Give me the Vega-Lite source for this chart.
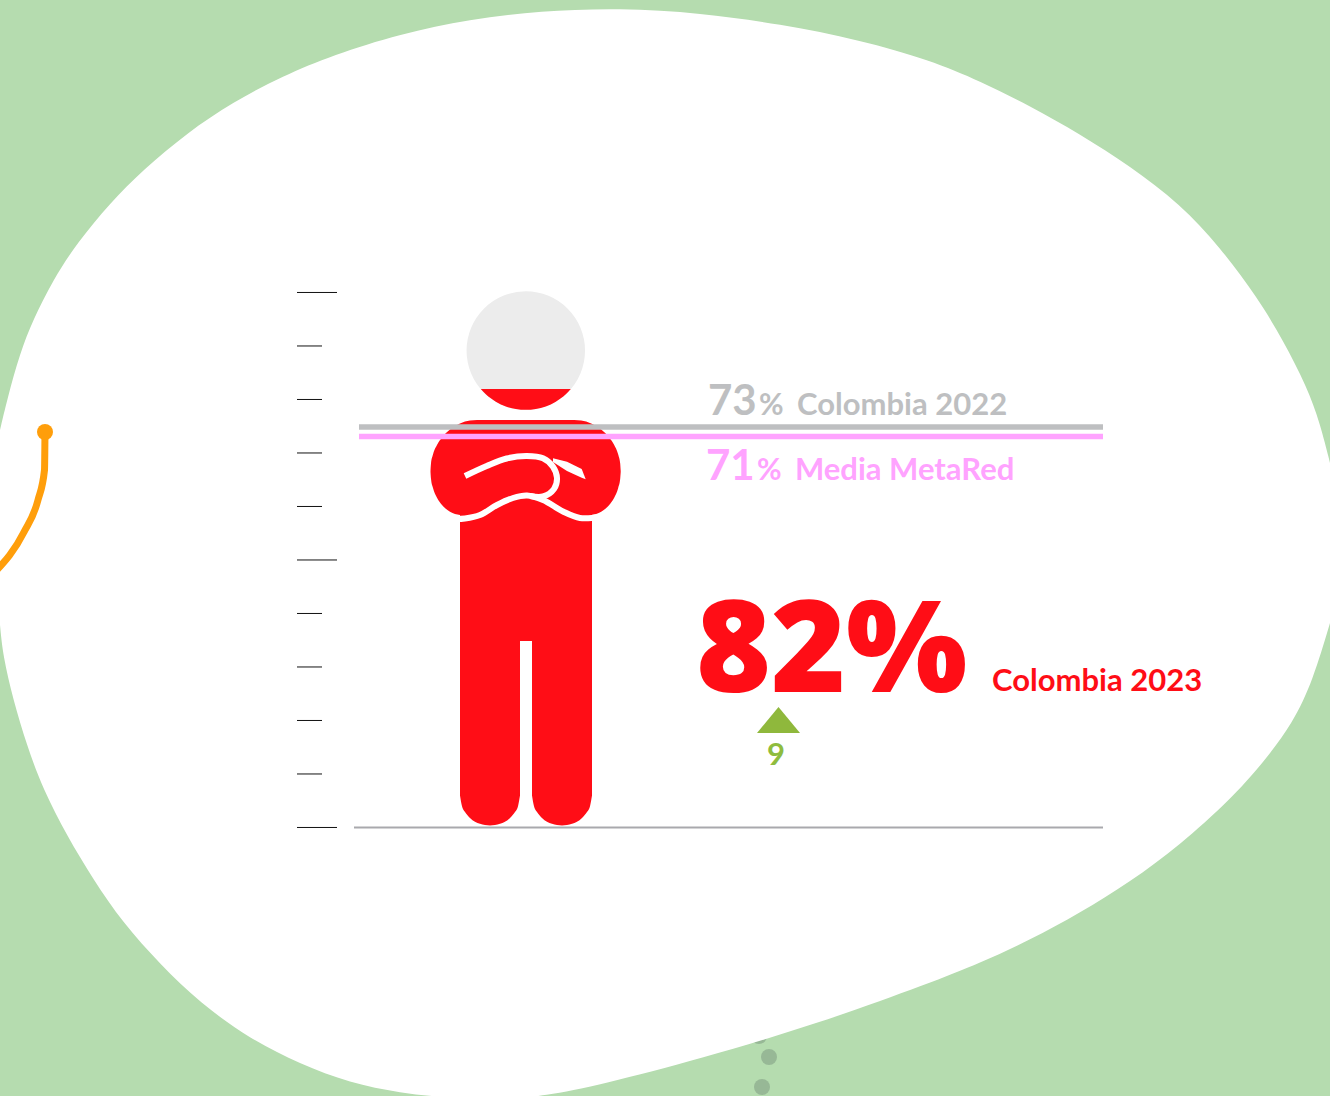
{
"$schema":"https://vega.github.io/schema/vega-lite/v6.json",
"width":1330,"height":1096,"padding":0,"autosize":{"type":"none"},
"background":"#B5DCAF",
"config":{"view":{"stroke":null}},
"resolve":{"scale":{"y":"independent"}},
"datasets":{
"dots":[{"x":759,"y":1036},{"x":769,"y":1057},{"x":762,"y":1087}],
"blob":[
{"part":"upper","x":0,"y":430,"y2":560},{"part":"upper","x":7,"y":400,"y2":560},{"part":"upper","x":20,"y":353,"y2":560},{"part":"upper","x":33,"y":320,"y2":560},{"part":"upper","x":53,"y":280,"y2":560},{"part":"upper","x":77,"y":243,"y2":560},{"part":"upper","x":110,"y":203,"y2":560},{"part":"upper","x":143,"y":170,"y2":560},{"part":"upper","x":187,"y":133,"y2":560},{"part":"upper","x":233,"y":102,"y2":560},{"part":"upper","x":283,"y":76,"y2":560},{"part":"upper","x":333,"y":55,"y2":560},{"part":"upper","x":400,"y":34,"y2":560},{"part":"upper","x":470,"y":19,"y2":560},{"part":"upper","x":540,"y":11,"y2":560},{"part":"upper","x":620,"y":8,"y2":560},{"part":"upper","x":700,"y":13,"y2":560},{"part":"upper","x":780,"y":24,"y2":560},{"part":"upper","x":860,"y":40,"y2":560},{"part":"upper","x":930,"y":60,"y2":560},{"part":"upper","x":980,"y":81,"y2":560},{"part":"upper","x":1030,"y":106,"y2":560},{"part":"upper","x":1080,"y":134,"y2":560},{"part":"upper","x":1130,"y":166,"y2":560},{"part":"upper","x":1180,"y":204,"y2":560},{"part":"upper","x":1220,"y":247,"y2":560},{"part":"upper","x":1257,"y":297,"y2":560},{"part":"upper","x":1283,"y":340,"y2":560},{"part":"upper","x":1307,"y":387,"y2":560},{"part":"upper","x":1320,"y":423,"y2":560},{"part":"upper","x":1330,"y":463,"y2":560},
{"part":"lower","x":0,"y":540,"y2":625},{"part":"lower","x":3,"y":540,"y2":656},{"part":"lower","x":13,"y":540,"y2":699},{"part":"lower","x":27,"y":540,"y2":746},{"part":"lower","x":43,"y":540,"y2":789},{"part":"lower","x":67,"y":540,"y2":836},{"part":"lower","x":93,"y":540,"y2":879},{"part":"lower","x":123,"y":540,"y2":923},{"part":"lower","x":160,"y":540,"y2":964},{"part":"lower","x":200,"y":540,"y2":1003},{"part":"lower","x":250,"y":540,"y2":1039},{"part":"lower","x":300,"y":540,"y2":1064},{"part":"lower","x":350,"y":540,"y2":1083},{"part":"lower","x":400,"y":540,"y2":1093},{"part":"lower","x":450,"y":540,"y2":1098},{"part":"lower","x":500,"y":540,"y2":1100},{"part":"lower","x":545,"y":540,"y2":1096},{"part":"lower","x":600,"y":540,"y2":1085},{"part":"lower","x":700,"y":540,"y2":1059},{"part":"lower","x":820,"y":540,"y2":1023},{"part":"lower","x":930,"y":540,"y2":983},{"part":"lower","x":980,"y":540,"y2":963},{"part":"lower","x":1030,"y":540,"y2":940},{"part":"lower","x":1080,"y":540,"y2":913},{"part":"lower","x":1130,"y":540,"y2":882},{"part":"lower","x":1180,"y":540,"y2":845},{"part":"lower","x":1230,"y":540,"y2":800},{"part":"lower","x":1263,"y":540,"y2":763},{"part":"lower","x":1293,"y":540,"y2":723},{"part":"lower","x":1313,"y":540,"y2":680},{"part":"lower","x":1330,"y":540,"y2":623}],
"curve":[{"o":1,"x":45,"y":432},{"o":2,"x":44.5,"y":470},{"o":3,"x":38,"y":500},{"o":4,"x":24,"y":532},{"o":5,"x":-5,"y":572}],
"head":[{"x":525.8,"y":350.6}],
"red":[
{"part":"headfill","x":480.8,"y":389,"y2":389.1},{"part":"headfill","x":485.8,"y":389,"y2":394.3},{"part":"headfill","x":495.8,"y":389,"y2":401.7},{"part":"headfill","x":505.8,"y":389,"y2":406.4},{"part":"headfill","x":515.8,"y":389,"y2":409},{"part":"headfill","x":525.8,"y":389,"y2":409.85},{"part":"headfill","x":535.8,"y":389,"y2":409},{"part":"headfill","x":545.8,"y":389,"y2":406.4},{"part":"headfill","x":555.8,"y":389,"y2":401.7},{"part":"headfill","x":565.8,"y":389,"y2":394.3},{"part":"headfill","x":570.8,"y":389,"y2":389.1},
{"part":"arms","x":430.5,"y":471,"y2":472},{"part":"arms","x":431,"y":463.5,"y2":478.8},{"part":"arms","x":433,"y":454.5,"y2":488},{"part":"arms","x":437,"y":445,"y2":497.8},{"part":"arms","x":442,"y":437.4,"y2":505},{"part":"arms","x":450,"y":429.5,"y2":511.7},{"part":"arms","x":460,"y":423.5,"y2":515},{"part":"arms","x":470,"y":420.6,"y2":516},{"part":"arms","x":477,"y":420,"y2":516},{"part":"arms","x":574.2,"y":420,"y2":516},{"part":"arms","x":581.2,"y":420.6,"y2":516},{"part":"arms","x":591.2,"y":423.5,"y2":515},{"part":"arms","x":601.2,"y":429.5,"y2":511.7},{"part":"arms","x":609.2,"y":437.4,"y2":505},{"part":"arms","x":614.2,"y":445,"y2":497.8},{"part":"arms","x":618.2,"y":454.5,"y2":488},{"part":"arms","x":620.2,"y":463.5,"y2":478.8},{"part":"arms","x":620.7,"y":471,"y2":472},
{"part":"torso","x":460,"y":505,"y2":641},{"part":"torso","x":592,"y":505,"y2":641},
{"part":"legL","x":460,"y":641,"y2":795.5},{"part":"legL","x":462,"y":641,"y2":806.3},{"part":"legL","x":465,"y":641,"y2":812},{"part":"legL","x":470,"y":641,"y2":817.9},{"part":"legL","x":480,"y":641,"y2":823.8},{"part":"legL","x":490,"y":641,"y2":825.5},{"part":"legL","x":500,"y":641,"y2":823.8},{"part":"legL","x":510,"y":641,"y2":817.9},{"part":"legL","x":515,"y":641,"y2":812},{"part":"legL","x":518,"y":641,"y2":806.3},{"part":"legL","x":520,"y":641,"y2":795.5},
{"part":"legR","x":532,"y":641,"y2":795.5},{"part":"legR","x":534,"y":641,"y2":806.3},{"part":"legR","x":537,"y":641,"y2":812},{"part":"legR","x":542,"y":641,"y2":817.9},{"part":"legR","x":552,"y":641,"y2":823.8},{"part":"legR","x":562,"y":641,"y2":825.5},{"part":"legR","x":572,"y":641,"y2":823.8},{"part":"legR","x":582,"y":641,"y2":817.9},{"part":"legR","x":587,"y":641,"y2":812},{"part":"legR","x":590,"y":641,"y2":806.3},{"part":"legR","x":592,"y":641,"y2":795.5}],
"folds":[
{"part":"wave","o":1,"x":456,"y":519},{"part":"wave","o":2,"x":465,"y":518.5},{"part":"wave","o":3,"x":480,"y":515},{"part":"wave","o":4,"x":497,"y":505},{"part":"wave","o":5,"x":513,"y":498},{"part":"wave","o":6,"x":527,"y":495.5},{"part":"wave","o":7,"x":543,"y":500},{"part":"wave","o":8,"x":563,"y":511.5},{"part":"wave","o":9,"x":580,"y":518},{"part":"wave","o":10,"x":600,"y":517},
{"part":"arm","o":1,"x":465,"y":476},{"part":"arm","o":2,"x":486.7,"y":466},{"part":"arm","o":3,"x":506.7,"y":458.5},{"part":"arm","o":4,"x":526.7,"y":456},{"part":"arm","o":5,"x":543,"y":458.3},{"part":"arm","o":6,"x":553,"y":466.7},{"part":"arm","o":7,"x":557,"y":478},{"part":"arm","o":8,"x":554,"y":489},{"part":"arm","o":9,"x":543,"y":496.5},{"part":"arm","o":10,"x":530,"y":496}],
"wedge":[{"x":553,"y":458.3,"y2":462},{"x":567,"y":461.7,"y2":471},{"x":581.7,"y":469,"y2":477.8},{"x":585.7,"y":479.3,"y2":479.3}],
"ticks":[{"pct":100,"x":297,"x2":337},{"pct":90,"x":297,"x2":322},{"pct":80,"x":297,"x2":322},{"pct":70,"x":297,"x2":322},{"pct":60,"x":297,"x2":322},{"pct":50,"x":297,"x2":337},{"pct":40,"x":297,"x2":322},{"pct":30,"x":297,"x2":322},{"pct":20,"x":297,"x2":322},{"pct":10,"x":297,"x2":322},{"pct":0,"x":297,"x2":337}],
"refs":[{"series":"Colombia 2022","pct":74.85,"x":359,"x2":1103},{"series":"Media MetaRed","pct":73.1,"x":359,"x2":1103}],
"base":[{"pct":0,"x":354,"x2":1103}],
"tri":[{"x":757,"y":733,"y2":733},{"x":778.5,"y":707,"y2":733},{"x":800,"y":733,"y2":733}],
"labels":[
{"series":"Colombia 2022","kind":"value","x":708,"y":415,"t":"73"},
{"series":"Colombia 2022","kind":"unit","x":759,"y":415,"t":"%"},
{"series":"Colombia 2022","kind":"label","x":797,"y":415,"t":"Colombia 2022"},
{"series":"Media MetaRed","kind":"value","x":706,"y":480,"t":"71"},
{"series":"Media MetaRed","kind":"unit","x":757,"y":480,"t":"%"},
{"series":"Media MetaRed","kind":"label","x":795,"y":480,"t":"Media MetaRed"},
{"series":"Colombia 2023","kind":"hero","x":696,"y":692,"t":"82%"},
{"series":"Colombia 2023","kind":"label","x":992,"y":691,"t":"Colombia 2023"},
{"series":"Cambio","kind":"label","x":767,"y":765,"t":"9"}]
},
"encoding":{"x":{"field":"x","type":"quantitative","axis":null,"scale":{"domain":[0,1330],"nice":false,"zero":false}}},
"layer":[
{"data":{"name":"dots"},"mark":{"type":"point","filled":true,"opacity":1,"size":256,"color":"#97B896"},
 "encoding":{"y":{"field":"y","type":"quantitative","axis":null,"scale":{"domain":[1096,0],"nice":false}}}},
{"data":{"name":"blob"},"mark":{"type":"area","interpolate":"basis","color":"#FFFFFF","clip":true},
 "encoding":{"detail":{"field":"part"},"y":{"field":"y","type":"quantitative","axis":null,"stack":null,"scale":{"domain":[1096,0],"nice":false}},"y2":{"field":"y2"}}},
{"data":{"name":"curve"},"mark":{"type":"line","interpolate":"monotone","color":"#FF9E0B","strokeWidth":7,"clip":true},
 "encoding":{"y":{"field":"y","type":"quantitative","axis":null,"scale":{"domain":[1096,0],"nice":false}},"order":{"field":"o"}}},
{"data":{"name":"curve"},"transform":[{"filter":"datum.o==1"}],"mark":{"type":"point","filled":true,"opacity":1,"size":256,"color":"#FF9E0B"},
 "encoding":{"y":{"field":"y","type":"quantitative","axis":null,"scale":{"domain":[1096,0],"nice":false}}}},
{"data":{"name":"ticks"},"mark":{"type":"rule","color":"#111111","strokeWidth":1},
 "encoding":{"x2":{"field":"x2"},"y":{"field":"pct","type":"quantitative","axis":null,"scale":{"domain":[-50.19,154.67],"nice":false}}}},
{"data":{"name":"base"},"mark":{"type":"rule","color":"#A9A9AD","strokeWidth":2},
 "encoding":{"x2":{"field":"x2"},"y":{"field":"pct","type":"quantitative","axis":null,"scale":{"domain":[-50.19,154.67],"nice":false}}}},
{"data":{"name":"head"},"mark":{"type":"point","filled":true,"opacity":1,"size":14040,"color":"#ECECEC"},
 "encoding":{"y":{"field":"y","type":"quantitative","axis":null,"scale":{"domain":[1096,0],"nice":false}}}},
{"data":{"name":"red"},"mark":{"type":"area","interpolate":"monotone","color":"#FF0D16"},
 "encoding":{"detail":{"field":"part"},"y":{"field":"y","type":"quantitative","axis":null,"stack":null,"scale":{"domain":[1096,0],"nice":false}},"y2":{"field":"y2"}}},
{"data":{"name":"folds"},"mark":{"type":"line","interpolate":"catmull-rom","color":"#FFFFFF","strokeWidth":6},
 "encoding":{"detail":{"field":"part"},"order":{"field":"o"},"y":{"field":"y","type":"quantitative","axis":null,"scale":{"domain":[1096,0],"nice":false}}}},
{"data":{"name":"wedge"},"mark":{"type":"area","color":"#FFFFFF"},
 "encoding":{"y":{"field":"y","type":"quantitative","axis":null,"stack":null,"scale":{"domain":[1096,0],"nice":false}},"y2":{"field":"y2"}}},
{"data":{"name":"refs"},"mark":{"type":"rule","strokeWidth":5.5},
 "encoding":{"x2":{"field":"x2"},"y":{"field":"pct","type":"quantitative","axis":null,"scale":{"domain":[-50.19,154.67],"nice":false}},
 "color":{"field":"series","type":"nominal","legend":null,"scale":{"domain":["Colombia 2022","Media MetaRed","Colombia 2023","Cambio"],"range":["#BEBFC1","#FFA3FF","#FF0D16","#8FBC3E"]}}}},
{"data":{"name":"tri"},"mark":{"type":"area","color":"#8FB83C"},
 "encoding":{"y":{"field":"y","type":"quantitative","axis":null,"stack":null,"scale":{"domain":[1096,0],"nice":false}},"y2":{"field":"y2"}}},
{"data":{"name":"labels"},"transform":[{"filter":"datum.kind=='hero'"}],"mark":{"type":"text","font":"Open Sans, sans-serif","fontWeight":800,"fontSize":128,"align":"left","baseline":"alphabetic"},
 "encoding":{"y":{"field":"y","type":"quantitative","axis":null,"scale":{"domain":[1096,0],"nice":false}},"text":{"field":"t"},
 "color":{"field":"series","type":"nominal","legend":null}}},
{"data":{"name":"labels"},"transform":[{"filter":"datum.kind=='value'"}],"mark":{"type":"text","font":"Lato","fontWeight":"bold","fontSize":42,"align":"left","baseline":"alphabetic"},
 "encoding":{"y":{"field":"y","type":"quantitative","axis":null,"scale":{"domain":[1096,0],"nice":false}},"text":{"field":"t"},
 "color":{"field":"series","type":"nominal","legend":null}}},
{"data":{"name":"labels"},"transform":[{"filter":"datum.kind=='unit'"}],"mark":{"type":"text","font":"Lato","fontWeight":"bold","fontSize":30,"align":"left","baseline":"alphabetic"},
 "encoding":{"y":{"field":"y","type":"quantitative","axis":null,"scale":{"domain":[1096,0],"nice":false}},"text":{"field":"t"},
 "color":{"field":"series","type":"nominal","legend":null}}},
{"data":{"name":"labels"},"transform":[{"filter":"datum.kind=='label'"}],"mark":{"type":"text","font":"Lato","fontWeight":"bold","fontSize":31,"align":"left","baseline":"alphabetic"},
 "encoding":{"y":{"field":"y","type":"quantitative","axis":null,"scale":{"domain":[1096,0],"nice":false}},"text":{"field":"t"},
 "color":{"field":"series","type":"nominal","legend":null}}}
]
}
